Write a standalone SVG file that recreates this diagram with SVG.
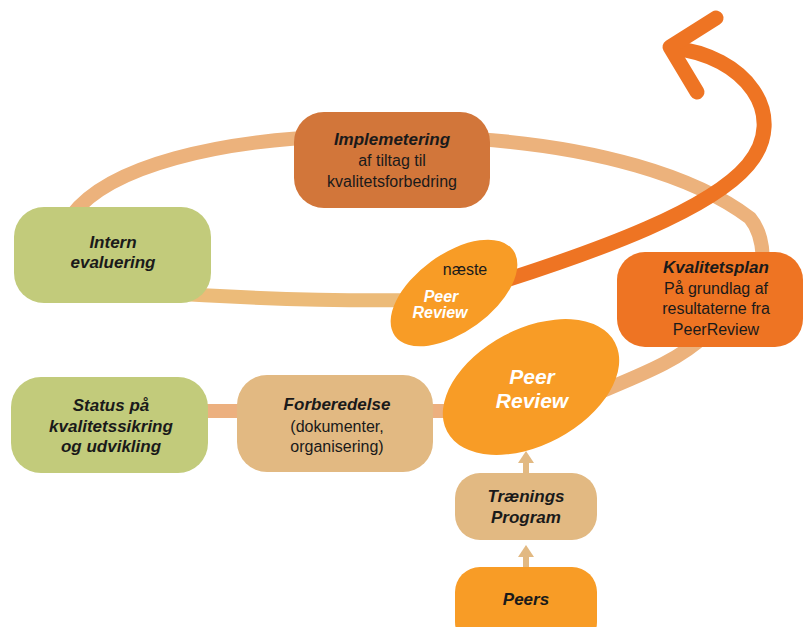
<svg xmlns="http://www.w3.org/2000/svg" width="803" height="627" viewBox="0 0 803 627">
<defs>
<style>
text { font-family: "Liberation Sans", Arial, sans-serif; text-anchor: middle; fill: #1a1a1a; }
.b { font-weight: bold; font-style: italic; font-size: 17px; }
.r { font-size: 16px; }
.w { fill: #ffffff; font-weight: bold; font-style: italic; }
.ring { fill: none; stroke: #ecb27c; stroke-width: 14; }
.ringY { fill: none; stroke: #ecbb79; stroke-width: 14; }
.bar { fill: none; stroke: #ecb07f; stroke-width: 14; }
.tanLine { fill: none; stroke: #e2b982; stroke-width: 6; }
.bigArrow { fill: none; stroke: #ee7423; stroke-width: 15; stroke-linecap: round; stroke-linejoin: round; }
.green { fill: #c2cb7b; }
.tan { fill: #e2b982; }
.orange { fill: #f89c26; }
.dark { fill: #ee7423; }
.impl { fill: #d2763a; }
</style>
<marker id="tanHead" markerUnits="userSpaceOnUse" markerWidth="14" markerHeight="18" viewBox="0 -9 14 18" refX="2" refY="0" orient="auto">
<path d="M0,-8 L12,0 L0,8 Z" fill="#e2b982"/>
</marker>
</defs>

<g id="connectors">
<path class="ring" d="M 72 215 C 110 165, 220 140, 340 136 L 440 137 C 600 143, 700 180, 750 218 C 760 230, 763 245, 763 265"/>
<path class="ringY" d="M 150 292 Q 300 302, 420 300"/>
<path class="ring" d="M 705 335 C 680 360, 640 375, 600 392"/>
<path class="bar" d="M 200 411 L 460 411"/>
<path class="tanLine" d="M 526 474 L 526 461" marker-end="url(#tanHead)"/>
<path class="tanLine" d="M 526 568 L 526 555" marker-end="url(#tanHead)"/>
<path class="bigArrow" d="M 500 282 C 600 250, 710 210, 748 165 C 790 115, 745 55, 672 48"/>
<path class="bigArrow" d="M 716 18 L 670 47 L 697 92"/>
</g>

<g id="intern">
<rect class="green" x="14" y="207" width="197" height="96" rx="30"/>
<text class="b" x="113" y="248">Intern</text>
<text class="b" x="113" y="268">evaluering</text>
</g>

<g id="implementering">
<rect class="impl" x="294" y="112" width="196" height="96" rx="30"/>
<text class="b" x="392" y="145">Implemetering</text>
<text class="r" x="392" y="166">af tiltag til</text>
<text class="r" x="392" y="187">kvalitetsforbedring</text>
</g>

<g id="naeste">
<ellipse class="orange" cx="454" cy="293" rx="73" ry="39" transform="rotate(-36 454 293)"/>
<text class="r" x="465" y="275">næste</text>
<text class="w" font-size="16" x="441" y="302">Peer</text>
<text class="w" font-size="16" x="440" y="318">Review</text>
</g>

<g id="kvalitetsplan">
<rect class="dark" x="617" y="252" width="186" height="95" rx="28"/>
<text class="b" x="716" y="273">Kvalitetsplan</text>
<text class="r" x="716" y="294">På grundlag af</text>
<text class="r" x="716" y="314">resultaterne fra</text>
<text class="r" x="716" y="335">PeerReview</text>
</g>

<g id="status">
<rect class="green" x="11" y="377" width="197" height="96" rx="30"/>
<text class="b" x="111" y="411">Status på</text>
<text class="b" x="111" y="432">kvalitetssikring</text>
<text class="b" x="111" y="452">og udvikling</text>
</g>

<g id="forberedelse">
<rect class="tan" x="237" y="375" width="196" height="97" rx="30"/>
<text class="b" x="337" y="410">Forberedelse</text>
<text class="r" x="337" y="432">(dokumenter,</text>
<text class="r" x="337" y="452">organisering)</text>
</g>

<g id="peerreview">
<ellipse class="orange" cx="531" cy="387" rx="95" ry="58" transform="rotate(-28 531 387)"/>
<text class="w" font-size="21" x="532" y="384">Peer</text>
<text class="w" font-size="21" x="532" y="408">Review</text>
</g>

<g id="traenings">
<rect class="tan" x="455" y="473" width="142" height="67" rx="25"/>
<text class="b" x="526" y="502">Trænings</text>
<text class="b" x="526" y="523">Program</text>
</g>

<g id="peers">
<rect class="orange" x="455" y="567" width="142" height="80" rx="25"/>
<text class="b" x="526" y="605">Peers</text>
</g>
</svg>
